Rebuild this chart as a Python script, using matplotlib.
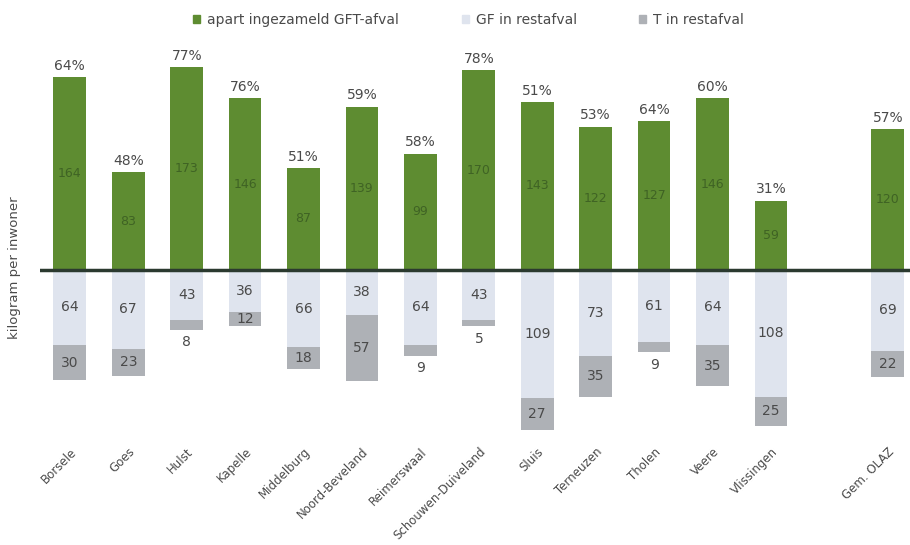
import numpy as np
import matplotlib
matplotlib.use('Agg')
import matplotlib.pyplot as plt
from matplotlib.patches import Patch

gemeenten = ['Borsele', 'Goes', 'Hulst', 'Kapelle', 'Middelburg', 'Noord-Beveland',
             'Reimerswaal', 'Schouwen-Duiveland', 'Sluis', 'Terneuzen', 'Tholen',
             'Veere', 'Vlissingen', 'Gem. OLAZ']
gft_apart = [164, 83, 173, 146, 87, 139, 99, 170, 143, 122, 127, 146, 59, 120]
gf_rest = [64, 67, 43, 36, 66, 38, 64, 43, 109, 73, 61, 64, 108, 69]
t_rest = [30, 23, 8, 12, 18, 57, 9, 5, 27, 35, 9, 35, 25, 22]
percentage = [64, 48, 77, 76, 51, 59, 58, 78, 51, 53, 64, 60, 31, 57]
posities = list(range(13)) + [14]

groen = '#5e8c31'
licht = '#dfe4ee'
donker = '#aeb1b6'
tekst = '#4a4a4a'

fig = plt.figure(figsize=(9.1, 5.45), dpi=100)
ax = fig.add_axes([0.044, 0.193, 0.956, 0.752])

x = np.array(posities)
w = 0.56
ax.bar(x, gft_apart, w, color=groen, zorder=2)
ax.bar(x, [-v for v in gf_rest], w, color=licht, zorder=2)
ax.bar(x, [-v for v in t_rest], w, bottom=[-v for v in gf_rest], color=donker, zorder=2)
ax.axhline(0, color='#2b3a2f', lw=2.5, zorder=3)

for xi, g, gf, t, p in zip(x, gft_apart, gf_rest, t_rest, percentage):
    ax.annotate(f'{p}%', (xi, g), xytext=(0, 3), textcoords='offset points',
                ha='center', va='bottom', fontsize=10, color=tekst)
    ax.text(xi, g / 2, str(g), ha='center', va='center', fontsize=9, color='#3f6324')
    ax.text(xi, -gf / 2, str(gf), ha='center', va='center', fontsize=10, color=tekst)
    if t >= 10:
        ax.text(xi, -gf - t / 2, str(t), ha='center', va='center', fontsize=10, color=tekst)
    else:
        ax.annotate(str(t), (xi, -gf - t), xytext=(0, -4), textcoords='offset points',
                    ha='center', va='top', fontsize=10, color=tekst)

ax.set_xlim(-0.51, 14.38)
ax.set_ylim(-144.7, 204.3)
ax.set_yticks([])
ax.set_xticks(x)
ax.set_xticklabels(gemeenten, rotation=45, ha='right', rotation_mode='anchor',
                   fontsize=8.5, color=tekst)
ax.tick_params(axis='x', length=0, pad=4)
for s in ax.spines.values():
    s.set_visible(False)

ax.set_ylabel('kilogram per inwoner', fontsize=9.5, color=tekst)
ax.yaxis.set_label_coords(-0.022, 0.42)

handles = [Patch(color=groen), Patch(color=licht), Patch(color=donker)]
labels = ['apart ingezameld GFT-afval', 'GF in restafval', 'T in restafval']
leg = fig.legend(handles, labels, loc='center', bbox_to_anchor=(0.515, 0.963), ncol=3,
                 frameon=False, fontsize=10, handlelength=0.5, handleheight=0.5,
                 handletextpad=0.5, columnspacing=4.5)
for t in leg.get_texts():
    t.set_color(tekst)

fig.savefig('out.png', dpi=100)
